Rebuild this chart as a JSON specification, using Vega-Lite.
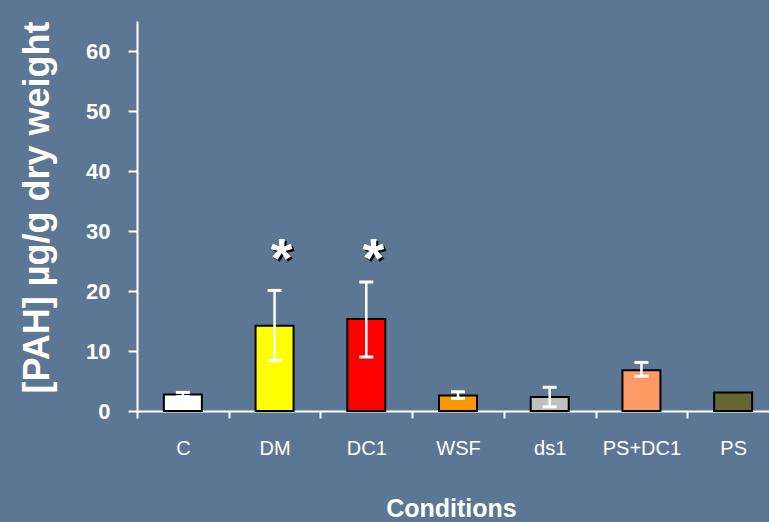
{
  "$schema": "https://vega.github.io/schema/vega-lite/v6.json",
  "width": 632,
  "height": 390,
  "autosize": {"type": "none"},
  "padding": {"left": 137, "top": 21, "right": 0, "bottom": 111},
  "background": "#5C7793",
  "config": {"view": {"stroke": null}, "font": "Liberation Sans"},
  "data": {
    "values": [
      {"cond": "C", "value": 2.75, "lo": 2.4, "hi": 3.1, "sig": null, "sig_y": null},
      {"cond": "DM", "value": 14.2, "lo": 8.4, "hi": 20.1, "sig": "*", "sig_y": 22.3},
      {"cond": "DC1", "value": 15.35, "lo": 9.0, "hi": 21.5, "sig": "*", "sig_y": 22.3},
      {"cond": "WSF", "value": 2.6, "lo": 2.1, "hi": 3.2, "sig": null, "sig_y": null},
      {"cond": "ds1", "value": 2.35, "lo": 0.7, "hi": 3.95, "sig": null, "sig_y": null},
      {"cond": "PS+DC1", "value": 6.8, "lo": 5.8, "hi": 8.1, "sig": null, "sig_y": null},
      {"cond": "PS", "value": 3.1, "lo": null, "hi": null, "sig": null, "sig_y": null}
    ]
  },
  "encoding": {
    "x": {
      "field": "cond",
      "type": "nominal",
      "sort": null,
      "scale": {"range": [0, 642], "paddingInner": 0, "paddingOuter": 0},
      "axis": {
        "title": "Conditions",
        "titleColor": "white",
        "titleFontSize": 25,
        "titleFontWeight": "bold",
        "titleX": 314,
        "titleY": 97,
        "titleBaseline": "middle",
        "titleAlign": "center",
        "labelAngle": 0,
        "labelColor": "white",
        "labelFontSize": 20,
        "labelFontWeight": "normal",
        "labelPadding": 20,
        "domainColor": "white",
        "domainWidth": 2,
        "tickColor": "white",
        "tickWidth": 2,
        "tickSize": 7,
        "tickBand": "extent",
        "grid": false
      }
    }
  },
  "layer": [
    {
      "mark": {"type": "bar", "size": 38, "stroke": "black", "strokeWidth": 2},
      "encoding": {
        "y": {
          "field": "value",
          "type": "quantitative",
          "scale": {"domain": [0, 65], "nice": false},
          "axis": {
            "title": "[PAH] µg/g dry weight",
            "titleColor": "white",
            "titleFontSize": 36,
            "titleFontWeight": "bold",
            "titleAngle": -90,
            "titleX": -100,
            "titleY": 186,
            "titleAlign": "center",
            "titleBaseline": "middle",
            "values": [0, 10, 20, 30, 40, 50, 60],
            "labelColor": "white",
            "labelFontSize": 22,
            "labelFontWeight": "bold",
            "labelPadding": 18,
            "domainColor": "white",
            "domainWidth": 2,
            "tickColor": "white",
            "tickWidth": 2,
            "tickSize": 9,
            "grid": false
          }
        },
        "color": {
          "field": "cond",
          "type": "nominal",
          "scale": {
            "domain": ["C", "DM", "DC1", "WSF", "ds1", "PS+DC1", "PS"],
            "range": ["#FFFFFF", "#FFFF00", "#FF0000", "#FF9900", "#C0C0C0", "#FF9966", "#666633"]
          },
          "legend": null
        }
      }
    },
    {
      "transform": [{"filter": "datum.hi != null"}],
      "mark": {"type": "rule", "color": "white", "strokeWidth": 2.5},
      "encoding": {
        "y": {"field": "lo", "type": "quantitative"},
        "y2": {"field": "hi"}
      }
    },
    {
      "transform": [{"filter": "datum.hi != null"}],
      "mark": {"type": "tick", "color": "white", "size": 14, "thickness": 3, "opacity": 1},
      "encoding": {"y": {"field": "hi", "type": "quantitative"}}
    },
    {
      "transform": [{"filter": "datum.lo != null"}],
      "mark": {"type": "tick", "color": "white", "size": 14, "thickness": 3, "opacity": 1},
      "encoding": {"y": {"field": "lo", "type": "quantitative"}}
    },
    {
      "transform": [{"filter": "datum.sig != null"}],
      "mark": {"type": "text", "fontSize": 56, "fontWeight": "bold", "color": "black", "dx": 9, "dy": 2, "baseline": "alphabetic", "align": "center"},
      "encoding": {
        "y": {"field": "sig_y", "type": "quantitative"},
        "text": {"field": "sig"}
      }
    },
    {
      "transform": [{"filter": "datum.sig != null"}],
      "mark": {"type": "text", "fontSize": 56, "fontWeight": "bold", "color": "white", "dx": 7, "baseline": "alphabetic", "align": "center"},
      "encoding": {
        "y": {"field": "sig_y", "type": "quantitative"},
        "text": {"field": "sig"}
      }
    }
  ]
}
